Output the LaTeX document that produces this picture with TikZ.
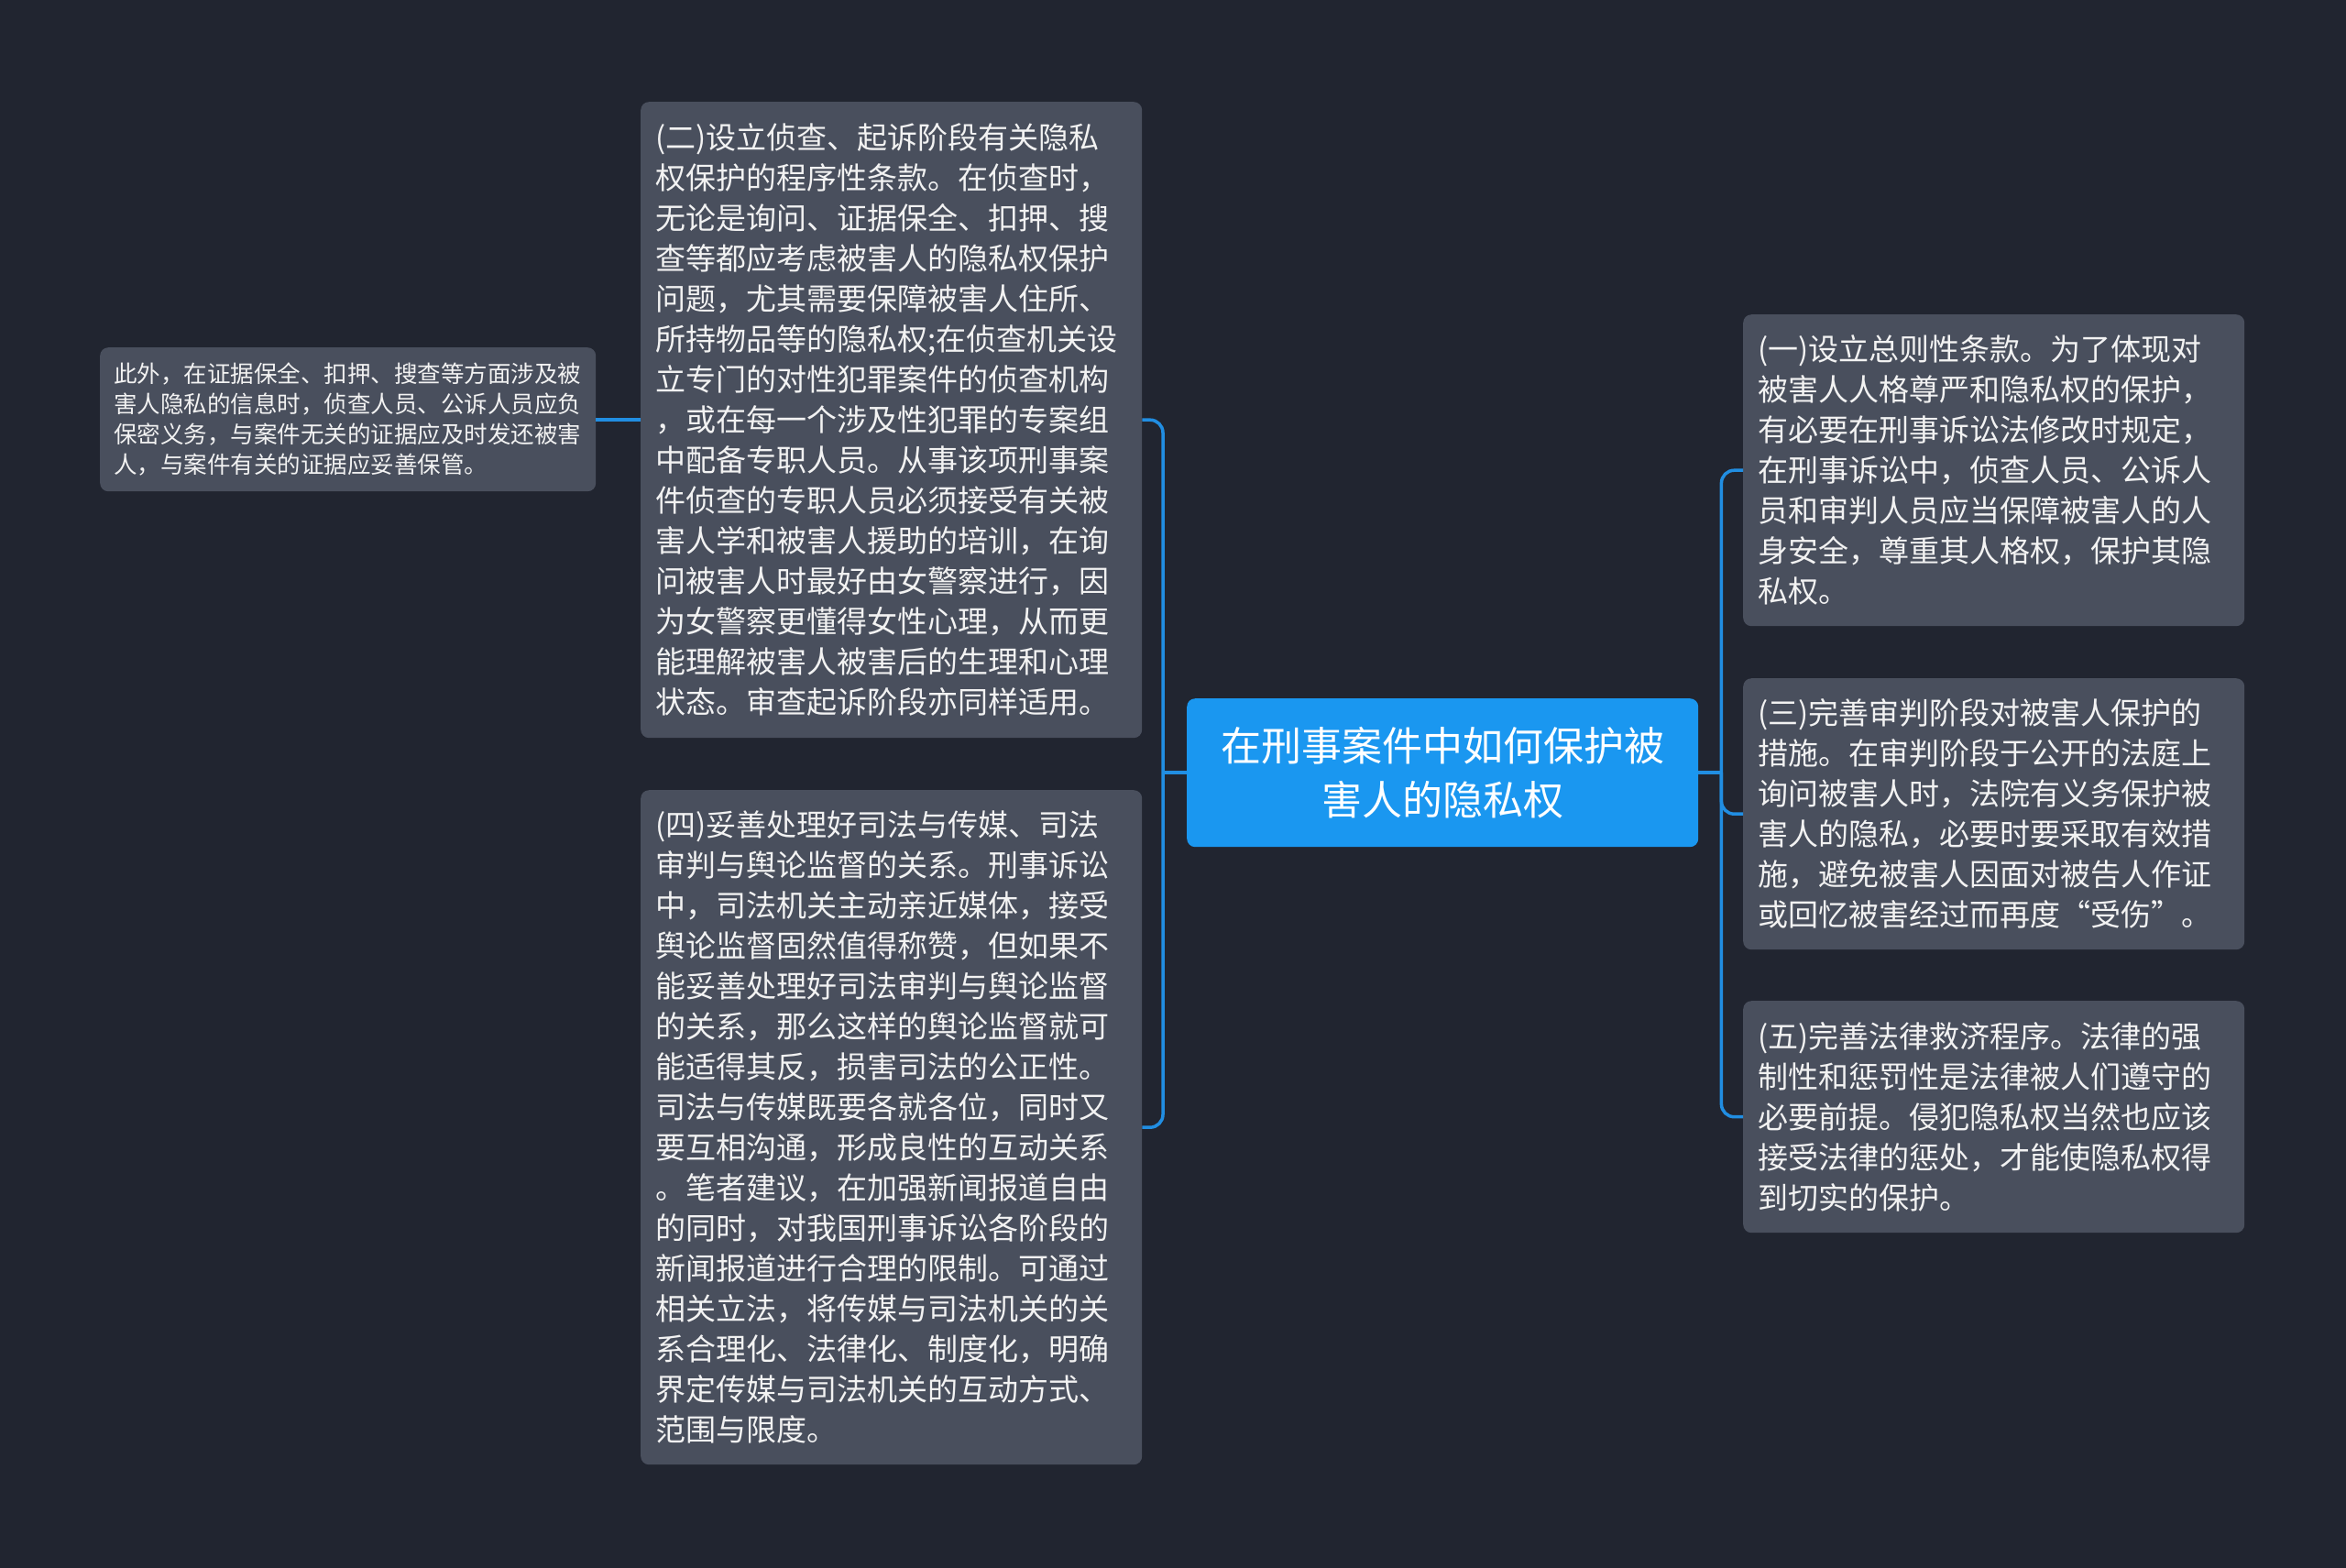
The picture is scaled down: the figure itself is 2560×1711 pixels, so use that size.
\documentclass[tikz,border=0pt]{standalone}
\usepackage{fontspec}
\setmainfont{Noto Sans CJK SC}
\definecolor{bgc}{RGB}{33,37,48}
\definecolor{boxc}{RGB}{73,79,93}
\definecolor{mainc}{RGB}{26,151,240}
\definecolor{linec}{RGB}{33,142,226}
\definecolor{txtc}{RGB}{242,242,242}
\tikzset{
  topic/.style={rectangle, rounded corners=9pt, fill=boxc, text=txtc, align=left,
    inner xsep=16pt, inner ysep=0pt, anchor=north west,
    font=\fontsize{33}{44}\selectfont},
  small/.style={rectangle, rounded corners=9pt, fill=boxc, text=txtc, align=left,
    inner xsep=15pt, inner ysep=0pt, anchor=north west,
    font=\fontsize{25.5}{33}\selectfont},
  root/.style={rectangle, rounded corners=9pt, fill=mainc, text=white, align=center,
    inner xsep=10pt, inner ysep=0pt, anchor=north west,
    font=\fontsize{44}{59}\selectfont},
  conn/.style={draw=linec, line width=3.5pt, rounded corners=14pt}
}
\begin{document}
\begin{tikzpicture}[x=1pt,y=-1pt]
\fill[bgc] (0,0) rectangle (2560,1711);
\useasboundingbox (0,0) rectangle (2560,1711);

\node[root, text width=538pt, minimum height=162pt] (c) at (1295,762) {在刑事案件中如何保护被\\害人的隐私权};

\node[topic, text width=515pt, minimum height=694pt] (tl) at (699,111) {(二)设立侦查、起诉阶段有关隐私\\权保护的程序性条款。在侦查时，\\无论是询问、证据保全、扣押、搜\\查等都应考虑被害人的隐私权保护\\问题，尤其需要保障被害人住所、\\所持物品等的隐私权;在侦查机关设\\立专门的对性犯罪案件的侦查机构\\，或在每一个涉及性犯罪的专案组\\中配备专职人员。从事该项刑事案\\件侦查的专职人员必须接受有关被\\害人学和被害人援助的培训，在询\\问被害人时最好由女警察进行，因\\为女警察更懂得女性心理，从而更\\能理解被害人被害后的生理和心理\\状态。审查起诉阶段亦同样适用。};

\node[topic, text width=515pt, minimum height=736pt] (bl) at (699,862) {(四)妥善处理好司法与传媒、司法\\审判与舆论监督的关系。刑事诉讼\\中，司法机关主动亲近媒体，接受\\舆论监督固然值得称赞，但如果不\\能妥善处理好司法审判与舆论监督\\的关系，那么这样的舆论监督就可\\能适得其反，损害司法的公正性。\\司法与传媒既要各就各位，同时又\\要互相沟通，形成良性的互动关系\\。笔者建议，在加强新闻报道自由\\的同时，对我国刑事诉讼各阶段的\\新闻报道进行合理的限制。可通过\\相关立法，将传媒与司法机关的关\\系合理化、法律化、制度化，明确\\界定传媒与司法机关的互动方式、\\范围与限度。};

\node[small, text width=511pt, minimum height=157pt] (fl) at (109,379) {此外，在证据保全、扣押、搜查等方面涉及被\\害人隐私的信息时，侦查人员、公诉人员应负\\保密义务，与案件无关的证据应及时发还被害\\人，与案件有关的证据应妥善保管。};

\node[topic, text width=515pt, minimum height=340pt] (r1) at (1902,343) {(一)设立总则性条款。为了体现对\\被害人人格尊严和隐私权的保护，\\有必要在刑事诉讼法修改时规定，\\在刑事诉讼中，侦查人员、公诉人\\员和审判人员应当保障被害人的人\\身安全，尊重其人格权，保护其隐\\私权。};

\node[topic, text width=515pt, minimum height=296pt] (r2) at (1902,740) {(三)完善审判阶段对被害人保护的\\措施。在审判阶段于公开的法庭上\\询问被害人时，法院有义务保护被\\害人的隐私，必要时要采取有效措\\施，避免被害人因面对被告人作证\\或回忆被害经过而再度“受伤”。};

\node[topic, text width=515pt, minimum height=253pt] (r3) at (1902,1092) {(五)完善法律救济程序。法律的强\\制性和惩罚性是法律被人们遵守的\\必要前提。侵犯隐私权当然也应该\\接受法律的惩处，才能使隐私权得\\到切实的保护。};

\coordinate (busL) at ([xshift=-26pt]c.west);
\coordinate (busR) at ([xshift=25pt]c.east);

\draw[conn] (c.west) -- (busL);
\draw[conn] (busL) |- (tl.east);
\draw[conn] (busL) |- (bl.east);
\draw[conn] (tl.west) -- (fl.east |- tl.west);

\draw[conn] (c.east) -- (busR);
\draw[conn] (busR) |- (r1.west);
\draw[conn] (busR) |- (r2.west);
\draw[conn] (busR) |- (r3.west);
\end{tikzpicture}
\end{document}
